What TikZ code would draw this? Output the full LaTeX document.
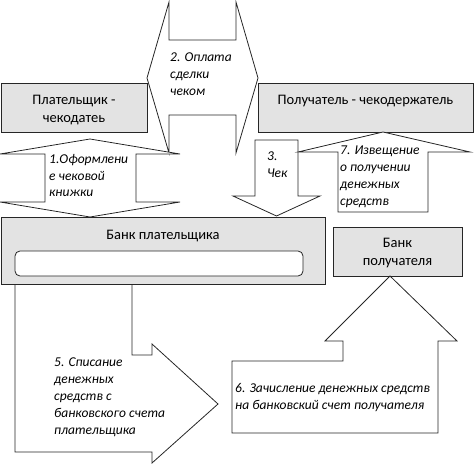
\documentclass[tikz,border=0pt]{standalone}
\usepackage{fontspec}
\setmainfont{Carlito}
\begin{document}
\begin{tikzpicture}[x=1pt,y=-1pt,
  boxstyle/.style={draw=black!85, line width=0.8pt, fill=gray!22},
  arrowshape/.style={draw=black!85, line width=0.8pt, fill=white, line join=miter},
  boxtext/.style={inner sep=0pt, align=center, font=\fontsize{14.5}{18}\selectfont},
  itext/.style={inner sep=0pt, align=left, anchor=north west, font=\fontsize{13.5}{16.8}\selectfont\itshape}]
\useasboundingbox (0,0) rectangle (474,465);

% Arrow 2 (left-right double arrow)
\path[arrowshape] (147,78) -- (169,2) -- (169,40) -- (236,40) -- (236,2) -- (258,78)
  -- (236,153) -- (236,115) -- (169,115) -- (169,153) -- cycle;
\node[itext] (t2) at (170,53) {2. Оплата\\сделки\\чеком};

% Top boxes
\path[boxstyle] (1,83) rectangle (147,132);
\node[boxtext] (payer) at (74,110) {Плательщик -\\чекодатеь};
\path[boxstyle] (258,83) rectangle (473,132);
\node[boxtext] (receiver) at (365.5,101) {Получатель - чекодержатель};

% Arrow 1 (up-down double arrow)
\path[arrowshape] (90,139) -- (180,154) -- (136,154) -- (136,202) -- (180,202) -- (90,217)
  -- (0,202) -- (45,202) -- (45,154) -- (0,154) -- cycle;
\node[itext] (t1) at (49,154) {1.Оформлени\\е чековой\\книжки};

% Arrow 3 (down)
\path[arrowshape] (255,140) -- (298,140) -- (298,196) -- (320,196) -- (276.5,216)
  -- (233,196) -- (255,196) -- cycle;
\node[itext] (t3) at (267,152) {3.\\Чек};

% Arrow 7 (up)
\path[arrowshape] (383,132) -- (470,152) -- (428,152) -- (428,212) -- (338,212)
  -- (338,152) -- (298,152) -- cycle;
\node[itext] (t7) at (340,146) {7. Извещение\\о получении\\денежных\\средств};

% Bank of payer
\path[boxstyle] (1,217) rectangle (325,284);
\node[boxtext] (bankp) at (163,236) {Банк плательщика};
\path[draw=black!85, line width=0.8pt, fill=white, rounded corners=5pt] (15,251) rectangle (303,276);

% Bank of receiver
\path[boxstyle] (333,227) rectangle (462,276);
\node[boxtext] (bankr) at (397.5,253.5) {Банк\\получателя};

% Arrow 5 (bent right)
\fill[white] (15,285) -- (15,452) -- (152,452) -- (152,463) -- (218,404) -- (152,344)
  -- (152,355) -- (132,355) -- (132,285) -- cycle;
\draw[black!85, line width=0.8pt, line join=miter] (15,284) -- (15,452) -- (152,452) -- (152,463)
  -- (218,404) -- (152,344) -- (152,355) -- (132,355) -- (132,284);
\node[itext] (t5) at (54,358) {5. Списание\\денежных\\средств с\\банковского счета\\плательщика};

% Arrow 6 (bent up)
\path[arrowshape] (390,276) -- (457,341) -- (438,341) -- (438,433) -- (232,433)
  -- (232,361) -- (343,361) -- (343,341) -- (325,341) -- cycle;
\node[itext] (t6) at (235,383) {6. Зачисление денежных средств\\на банковский счет получателя};
\end{tikzpicture}
\end{document}
